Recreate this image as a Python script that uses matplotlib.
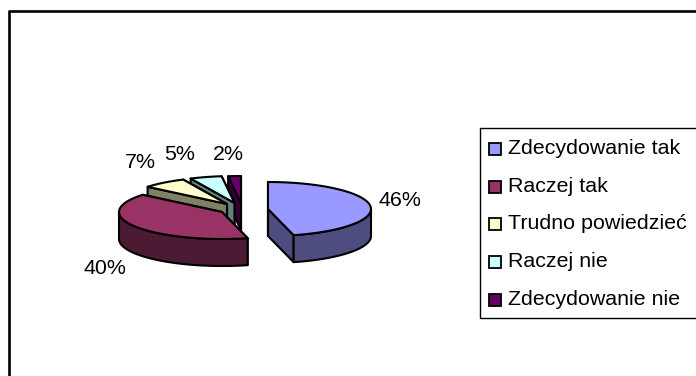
import numpy as np
import matplotlib
matplotlib.use("Agg")
import matplotlib.pyplot as plt
from matplotlib.patches import Polygon, Rectangle

plt.rcParams['font.family'] = ['Liberation Sans', 'DejaVu Sans']

categories = ["Zdecydowanie tak", "Raczej tak", "Trudno powiedzieć", "Raczej nie", "Zdecydowanie nie"]
values = [46, 40, 7, 5, 2]
top_colors = ["#9999FF", "#993366", "#FFFFCC", "#CCFFFF", "#660066"]
side_colors = ["#4D4D80", "#4C1A33", "#808066", "#668080", "#330033"]

# slice centres after explosion, in pixels
centers = [(268, 209), (222, 212), (227, 204), (234.5, 203), (241, 203)]
label_pos = [(400, 201), (105, 268), (140, 163), (180, 155), (228, 155)]
A, B, DEPTH = 103, 27, 27
LW = 1.5
FONT = 15.4


def pt(c, ang):
    a = np.radians(ang)
    return c[0] + A * np.sin(a), c[1] - B * np.cos(a)


def arc(c, a0, a1):
    angs = np.linspace(a0, a1, 80)
    xs, ys = pt(c, angs)
    return np.column_stack([xs, ys])


def face(ax, pts, color, z):
    ax.add_patch(Polygon(pts, closed=True, fc=color, ec="black", lw=LW, joinstyle="round", zorder=z))


def draw_slice(ax, c, a0, a1, top, side, z):
    down = np.array([0, DEPTH])
    for a in (a1, a0):
        p = np.array(pt(c, a))
        face(ax, [c, p, p + down, np.array(c) + down], side, z)
    w0, w1 = max(a0, 90), min(a1, 270)
    if w1 > w0:
        rim = arc(c, w0, w1)
        face(ax, np.vstack([rim, rim[::-1] + down]), side, z + 0.1)
    face(ax, np.vstack([[c], arc(c, a0, a1)]), top, z + 0.2)


fig = plt.figure(figsize=(6.96, 3.76), dpi=100)
ax = fig.add_axes([0, 0, 1, 1])
ax.set_xlim(0, 696)
ax.set_ylim(376, 0)
ax.axis("off")

# chart frame runs off the right and bottom of the picture
ax.plot([9.2, 9.2], [380, 11], color="black", lw=1.9, solid_capstyle="butt")
ax.plot([8, 700], [11, 11], color="black", lw=1.9, solid_capstyle="butt")

edges = np.cumsum([0] + values) / sum(values) * 360
for i in range(len(values) - 1, -1, -1):
    draw_slice(ax, centers[i], edges[i], edges[i + 1], top_colors[i], side_colors[i], 10 - i if i else 12)

for v, (x, y) in zip(values, label_pos):
    ax.text(x, y, f"{v}%", fontsize=FONT, ha="center", va="center", color="black", zorder=20)

# legend
ax.add_patch(Rectangle((480, 128), 230, 190, fc="white", ec="black", lw=1, zorder=5))
for i, name in enumerate(categories):
    y = 148.5 + i * 37.7
    ax.add_patch(Rectangle((489, y - 5.5), 12, 12, fc=top_colors[i], ec="black", lw=1.3, zorder=6))
    ax.text(508, y, name, fontsize=FONT, ha="left", va="center", color="black", zorder=6)

fig.savefig("out.png", dpi=100)
